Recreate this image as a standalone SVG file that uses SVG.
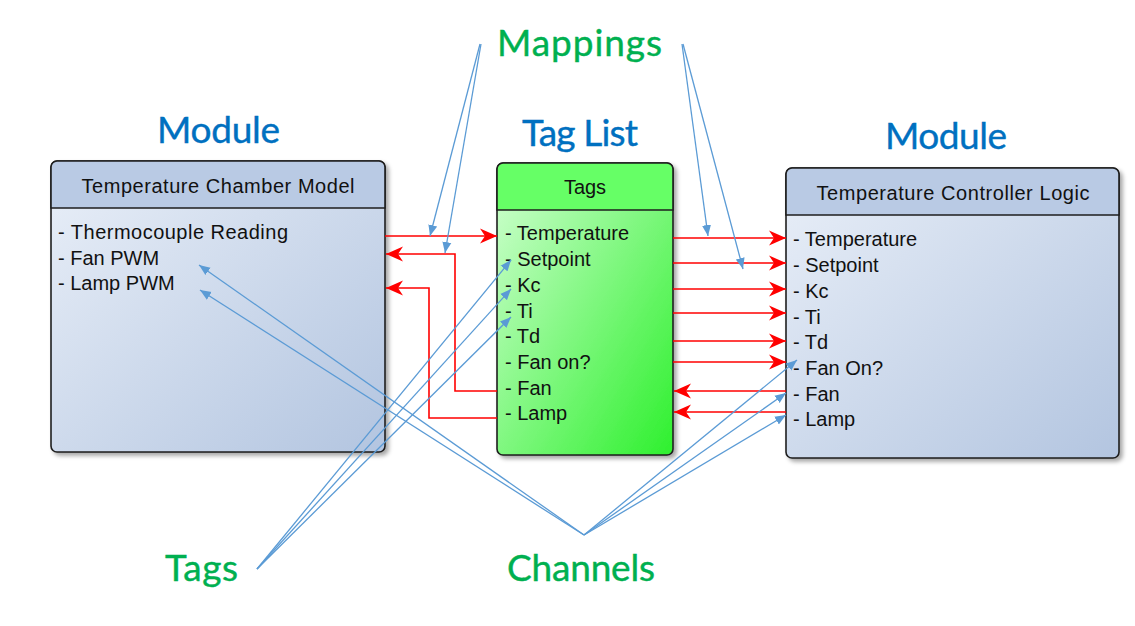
<svg xmlns="http://www.w3.org/2000/svg" width="1135" height="626" viewBox="0 0 1135 626">
<style>
.box{stroke:#1e1e1e;stroke-width:1.6}
.hdr{stroke:#1e1e1e;stroke-width:1.6}
.t{font-family:"Liberation Sans",Arial,sans-serif;font-size:20px;fill:#111}
.ttl{font-family:"Liberation Sans",Arial,sans-serif;font-size:20px;fill:#111;text-anchor:middle}
.lbl{font-family:Lato,"Open Sans",sans-serif;font-size:37px;stroke-width:0.4}
.blue{fill:#0070c0;stroke:#0070c0}
.green{fill:#00b050;stroke:#00b050}
.red{fill:none;stroke:#ff0000;stroke-width:1.6;marker-end:url(#ra)}
.bl{fill:none;stroke:#5b9bd5;stroke-width:1.3;marker-end:url(#ba)}
</style>
<defs>
<linearGradient id="gb" x1="0" y1="0" x2="1" y2="1">
<stop offset="0" stop-color="#e9eff8"/>
<stop offset="1" stop-color="#b3c5e0"/>
</linearGradient>
<linearGradient id="gg" x1="0" y1="0" x2="1" y2="1">
<stop offset="0" stop-color="#d2ffd2"/>
<stop offset="1" stop-color="#2ef02e"/>
</linearGradient>
<filter id="sh" x="-10%" y="-10%" width="125%" height="125%">
<feDropShadow dx="3" dy="3" stdDeviation="2" flood-color="#000" flood-opacity="0.35"/>
</filter>
<marker id="ra" markerUnits="userSpaceOnUse" markerWidth="20" markerHeight="18" viewBox="0 0 20 18" refX="18" refY="9" orient="auto">
<path d="M1,1.5 L18,9 L1,16.5 L6,9 z" fill="#ff0000"/>
</marker>
<marker id="ba" markerUnits="userSpaceOnUse" markerWidth="12" markerHeight="10" viewBox="0 0 12 10" refX="11" refY="5" orient="auto">
<path d="M0,0.5 L11,5 L0,9.5 z" fill="#5b9bd5"/>
</marker>
</defs>
<rect width="1135" height="626" fill="#ffffff"/>

<g id="label-mappings"><text class="lbl green" x="497" y="56" textLength="165">Mappings</text></g>
<g id="label-module-left"><text class="lbl blue" x="157" y="143" textLength="123">Module</text></g>
<g id="label-taglist"><text class="lbl blue" x="522" y="146" textLength="116">Tag List</text></g>
<g id="label-module-right"><text class="lbl blue" x="885" y="149" textLength="122">Module</text></g>
<g id="label-tags"><text class="lbl green" x="165" y="581" textLength="73">Tags</text></g>
<g id="label-channels"><text class="lbl green" x="507" y="581" textLength="148">Channels</text></g>

<g id="node-chamber">
<rect class="box" x="51" y="161" width="334" height="291" rx="6" fill="url(#gb)" filter="url(#sh)"/>
<path d="M57,161 H379 A6,6 0 0 1 385,167 V208 H51 V167 A6,6 0 0 1 57,161 z" fill="#b9cae4" class="hdr"/>
<text class="ttl" x="218" y="193" textLength="273">Temperature Chamber Model</text>
<text class="t" x="58" y="239" textLength="230">- Thermocouple Reading</text>
<text class="t" x="58" y="265">- Fan PWM</text>
<text class="t" x="58" y="290">- Lamp PWM</text>
</g>

<g id="node-tags">
<rect class="box" x="497" y="163" width="176" height="292" rx="6" fill="url(#gg)" filter="url(#sh)"/>
<path d="M503,163 H667 A6,6 0 0 1 673,169 V210 H497 V169 A6,6 0 0 1 503,163 z" fill="#66ff66" class="hdr"/>
<text class="ttl" x="585" y="194">Tags</text>
<text class="t" x="505" y="240">- Temperature</text>
<text class="t" x="505" y="266">- Setpoint</text>
<text class="t" x="505" y="292">- Kc</text>
<text class="t" x="505" y="318">- Ti</text>
<text class="t" x="505" y="343">- Td</text>
<text class="t" x="505" y="369">- Fan on?</text>
<text class="t" x="505" y="395">- Fan</text>
<text class="t" x="505" y="420">- Lamp</text>
</g>

<g id="node-controller">
<rect class="box" x="786" y="168" width="333" height="290" rx="6" fill="url(#gb)" filter="url(#sh)"/>
<path d="M792,168 H1113 A6,6 0 0 1 1119,174 V215 H786 V174 A6,6 0 0 1 792,168 z" fill="#b9cae4" class="hdr"/>
<text class="ttl" x="953" y="200" textLength="273">Temperature Controller Logic</text>
<text class="t" x="793" y="246">- Temperature</text>
<text class="t" x="793" y="272">- Setpoint</text>
<text class="t" x="793" y="298">- Kc</text>
<text class="t" x="793" y="324">- Ti</text>
<text class="t" x="793" y="349">- Td</text>
<text class="t" x="793" y="375">- Fan On?</text>
<text class="t" x="793" y="401">- Fan</text>
<text class="t" x="793" y="426">- Lamp</text>
</g>

<g id="connectors">
<path class="red" d="M385,236 H497"/>
<path class="red" d="M497,391 H455 V254 H386"/>
<path class="red" d="M497,418 H429 V288 H386"/>
<path class="red" d="M673,238 H786"/>
<path class="red" d="M673,263 H786"/>
<path class="red" d="M673,289 H786"/>
<path class="red" d="M673,313 H786"/>
<path class="red" d="M673,341 H786"/>
<path class="red" d="M673,362 H786"/>
<path class="red" d="M786,391 H674"/>
<path class="red" d="M786,412 H674"/>

<path class="bl" d="M480,44 L430,236"/>
<path class="bl" d="M481,44 L445,253"/>
<path class="bl" d="M682,44 L708,236"/>
<path class="bl" d="M683,44 L743,269"/>

<path class="bl" d="M257,569 L511,260"/>
<path class="bl" d="M257,569 L511,289"/>
<path class="bl" d="M257,569 L511,317"/>

<path class="bl" d="M584,535 L199,265"/>
<path class="bl" d="M584,535 L200,290"/>
<path class="bl" d="M584,535 L797,360"/>
<path class="bl" d="M584,535 L786,393"/>
<path class="bl" d="M584,535 L786,415"/>
</g>
</svg>
